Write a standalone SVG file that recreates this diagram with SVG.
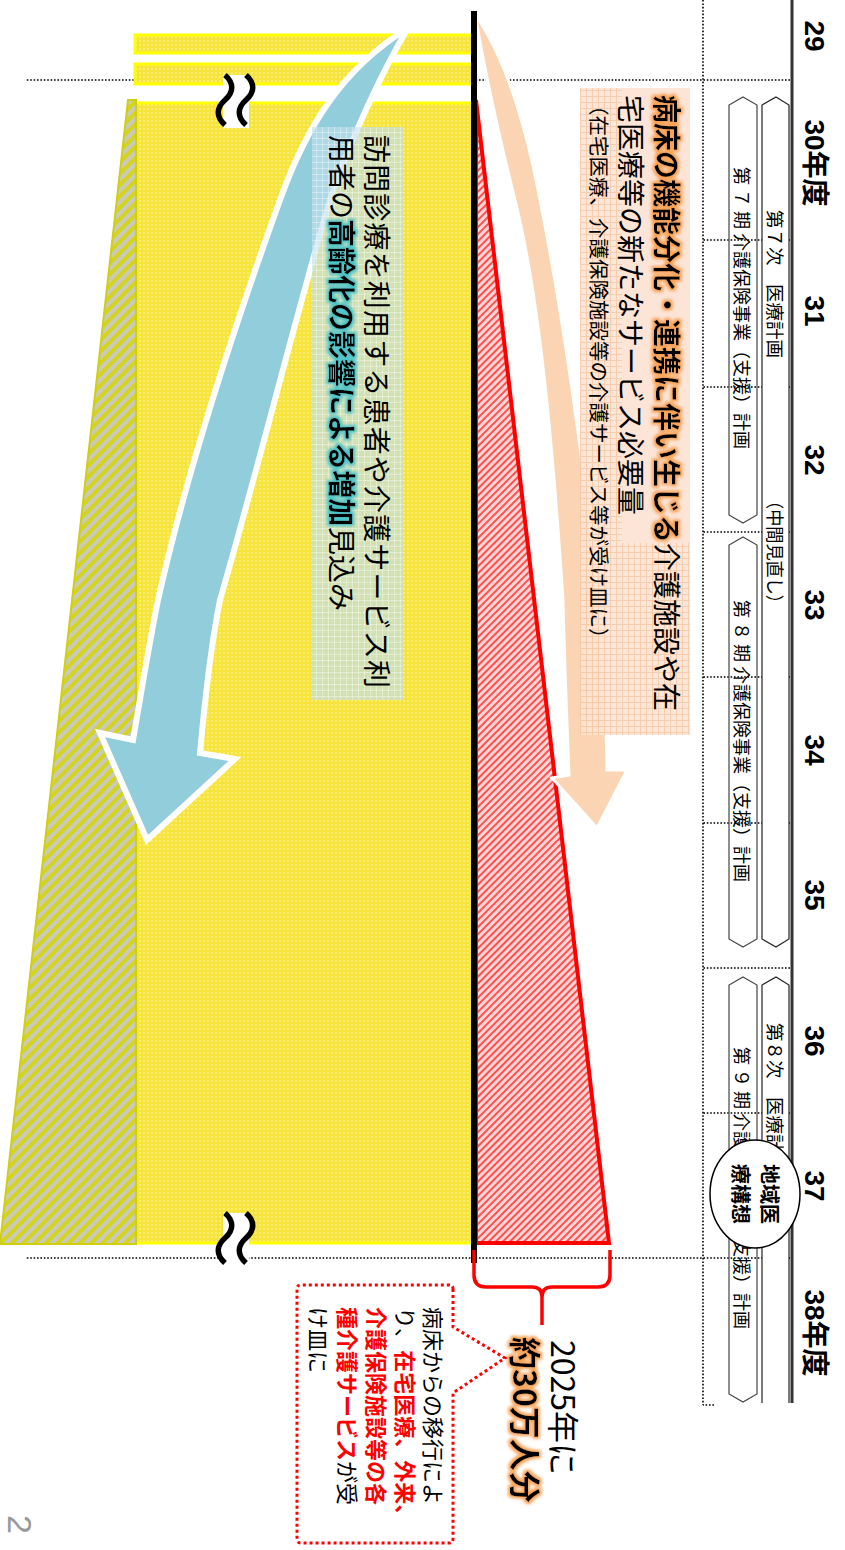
<svg xmlns="http://www.w3.org/2000/svg" width="845" height="1550" viewBox="0 0 845 1550">
<style>
.jp{font-family:"Noto Sans CJK JP","Noto Sans",sans-serif}
.yr{font-family:"Liberation Sans","Noto Sans CJK JP",sans-serif;font-weight:bold;font-size:28px;text-anchor:middle}
.dot{stroke:#000;stroke-width:1.6;stroke-dasharray:1.6 1.8;fill:none}
.barA{fill:#fff;stroke:#222;stroke-width:1.2}
.barB{fill:none;stroke:#444;stroke-width:1.2}
.tl{font-size:18.5px;dominant-baseline:central}
.tk{font-size:18px;dominant-baseline:central}
.c{dominant-baseline:central}
.b{font-weight:bold}
.wave{fill:none;stroke:#000;stroke-width:5.5}
</style>
<defs>
<pattern id="pY" width="4" height="4" patternUnits="userSpaceOnUse"><rect width="4" height="4" fill="#F6E33C"/><rect width="2" height="2" fill="#FBEE6E"/></pattern>
<pattern id="pR" width="5" height="5" patternUnits="userSpaceOnUse" patternTransform="rotate(-45)"><rect width="5" height="5" fill="#FFD6D6"/><rect width="2" height="5" fill="#FF5050"/></pattern>
<pattern id="pO" width="8" height="8" patternUnits="userSpaceOnUse" patternTransform="rotate(-45)"><rect width="8" height="8" fill="#C9C9BE"/><rect width="4" height="8" fill="#D4D41E"/></pattern>
<pattern id="pGP" width="6" height="6" patternUnits="userSpaceOnUse"><rect width="6" height="6" fill="#FCE3D3"/><path d="M0,0.5H6M0.5,0V6" stroke="#F6C8A6" stroke-width="1"/></pattern>
<pattern id="pGB" width="6" height="6" patternUnits="userSpaceOnUse"><path d="M0,0.5H6M0.5,0V6" stroke="#ffffff" stroke-opacity="0.35" stroke-width="1"/></pattern>
<filter id="glowO" x="-5%" y="-40%" width="110%" height="180%"><feMorphology in="SourceAlpha" operator="dilate" radius="2" result="d"/><feGaussianBlur in="d" stdDeviation="1.6" result="bl"/><feFlood flood-color="#F7A358"/><feComposite in2="bl" operator="in" result="g"/><feMerge><feMergeNode in="g"/><feMergeNode in="SourceGraphic"/></feMerge></filter>
<filter id="glowT" x="-5%" y="-40%" width="110%" height="180%"><feMorphology in="SourceAlpha" operator="dilate" radius="2" result="d"/><feGaussianBlur in="d" stdDeviation="1.6" result="bl"/><feFlood flood-color="#4DC2C6"/><feComposite in2="bl" operator="in" result="g"/><feMerge><feMergeNode in="g"/><feMergeNode in="SourceGraphic"/></feMerge></filter>
</defs>
<rect width="845" height="1550" fill="#fff"/>
<g transform="translate(845,0) rotate(90)">
  <g id="grid">
    <line class="dot" x1="80" y1="55" x2="80" y2="819"/>
    <line class="dot" x1="1258" y1="55" x2="1258" y2="819"/>
    <line class="dot" x1="240" y1="55" x2="240" y2="142"/>
    <line class="dot" x1="387" y1="55" x2="387" y2="142"/>
    <line class="dot" x1="532" y1="55" x2="532" y2="142"/>
    <line class="dot" x1="677" y1="55" x2="677" y2="142"/>
    <line class="dot" x1="823" y1="55" x2="823" y2="142"/>
    <line class="dot" x1="968" y1="55" x2="968" y2="142"/>
    <line class="dot" x1="1113" y1="55" x2="1113" y2="142"/>
    <line class="dot" x1="0" y1="142" x2="1405" y2="142"/>
    <line class="dot" x1="1405" y1="131" x2="1405" y2="142"/>
  </g>
  <g id="yellow-area">
    <rect x="35" y="372" width="18" height="338" fill="url(#pY)" stroke="#FFFF00" stroke-width="3"/>
    <rect x="64" y="372" width="20" height="338" fill="url(#pY)" stroke="#FFFF00" stroke-width="3"/>
    <rect x="103" y="372" width="1140" height="338" fill="url(#pY)" stroke="#FFFF00" stroke-width="3"/>
  </g>
  <g id="olive-area">
    <polygon points="100,709 1244,709 1244,845 100,717" fill="url(#pO)" stroke="#CFCF10" stroke-width="2"/>
  </g>
  <g id="red-triangle">
    <polygon points="100,369 1243,236 1243,369" fill="url(#pR)" stroke="#FF0000" stroke-width="4"/>
  </g>
  <g id="breaks">
    <rect x="75" y="596" width="53" height="26" fill="#fff"/>
    <path class="wave" d="M75,620 c8,-9 17,-9 25,0 s17,9 25,0"/>
    <path class="wave" d="M75,599 c8,-9 17,-9 25,0 s17,9 25,0"/>
    <rect x="1213" y="596" width="53" height="26" fill="#fff"/>
    <path class="wave" d="M1213,620 c8,-9 17,-9 25,0 s17,9 25,0"/>
    <path class="wave" d="M1213,599 c8,-9 17,-9 25,0 s17,9 25,0"/>
  </g>
  <g id="connectors">
    <path id="blue-arrow" d="M28,437 C70,462 140,495 200,515 C300,545 480,590 600,625 C650,635 720,642 753,645 L759,610 L840,698 L733,745 L740,712 C700,705 650,697 600,687 C480,660 330,612 200,565 C130,540 70,505 28,437 Z" fill="#92CDDC" stroke="#fff" stroke-width="6" stroke-linejoin="miter"/>
    <path id="peach-arrow" d="M20,366 C60,340 120,320 200,305 C300,285 450,262 600,247 C700,240 750,238 770,238 L770,218 L828,248 L778,293 L775,276 C700,279 650,281 600,282 C450,292 300,305 200,330 C120,350 60,362 20,369 Z" fill="#FBD4B4" stroke="#fff" stroke-width="3"/>
    <line x1="11" y1="371" x2="1263" y2="371" stroke="#000" stroke-width="6"/>
    <path id="brace" d="M1250,371 L1275,371 Q1287,371 1287,359 L1287,313 Q1287,303 1297,303 L1325,303 M1297,303 Q1287,303 1287,293 L1287,247 Q1287,235 1275,235 L1250,235" fill="none" stroke="#FF0000" stroke-width="3.5"/>
  </g>
  <g id="header">
    <line x1="0" y1="53" x2="1403" y2="53" stroke="#333" stroke-width="3"/>
    <text class="yr" x="36" y="40">29</text>
    <text class="yr" x="163" y="40">30年度</text>
    <text class="yr" x="311" y="40">31</text>
    <text class="yr" x="460" y="40">32</text>
    <text class="yr" x="605" y="40">33</text>
    <text class="yr" x="750" y="40">34</text>
    <text class="yr" x="895" y="40">35</text>
    <text class="yr" x="1041" y="40">36</text>
    <text class="yr" x="1186" y="40">37</text>
    <text class="yr" x="1333" y="40">38年度</text>
  </g>
  <g id="plan-7-iryo">
    <polygon class="barA" points="97,69 105,56 939,56 947,69 939,83 105,83"/>
    <text class="jp tl" x="210" y="69">第７次　医療計画</text>
    <text class="jp tl" x="492" y="69" textLength="120" lengthAdjust="spacingAndGlyphs">（中間見直し）</text>
  </g>
  <g id="plan-7-kaigo">
    <polygon class="barB" points="97,102 105,88 515,88 523,102 515,116 105,116"/>
    <text class="jp tk" x="167" y="102">第 ７ 期 介護保険事業（支援）計画</text>
  </g>
  <g id="plan-8-kaigo">
    <polygon class="barB" points="537,102 545,88 939,88 947,102 939,116 545,116"/>
    <text class="jp tk" x="600" y="102">第 ８ 期 介護保険事業（支援）計画</text>
  </g>
  <g id="plan-8-iryo">
    <path class="barA" d="M1403,56 L985,56 L977,69 L985,83 L1403,83"/>
    <text class="jp tl" x="1023" y="69">第８次　医療計画</text>
  </g>
  <g id="plan-9-kaigo">
    <polygon class="barB" points="977,102 985,88 1394,88 1402,102 1394,116 985,116"/>
    <text class="jp tk" x="1047" y="102">第 ９ 期 介護保険事業（支援）計画</text>
  </g>
  <g id="chiiki-iryo-koso">
    <ellipse cx="1194" cy="90" rx="54" ry="45" fill="#fff" stroke="#000" stroke-width="1.5"/>
    <text class="jp c b" x="1194" y="75" font-size="20" text-anchor="middle">地域医</text>
    <text class="jp c b" x="1194" y="104" font-size="20" text-anchor="middle">療構想</text>
  </g>
  <g id="peach-box">
    <rect x="88" y="155" width="647" height="110" fill="url(#pGP)" fill-opacity="0.9"/>
    <rect x="88" y="155" width="455" height="68" fill="#FCE4D6"/>
    <text class="jp c b" x="95" y="177" font-size="28" filter="url(#glowO)">病床の機能分化・連携に伴い生じる</text>
    <text class="jp c" x="543" y="177" font-size="28">介護施設や在</text>
    <text class="jp c" x="95" y="213" font-size="28">宅医療等の新たなサービス必要量</text>
    <text class="jp c" x="95" y="245" font-size="20.5">（在宅医療、介護保険施設等の介護サービス等が受け皿に）</text>
  </g>
  <g id="blue-box">
    <rect x="127" y="442" width="573" height="91" fill="#BFDFEC" fill-opacity="0.65"/>
    <rect x="127" y="442" width="573" height="91" fill="url(#pGB)"/>
    <text class="jp c" x="135" y="467" font-size="28" textLength="553" lengthAdjust="spacing">訪問診療を利用する患者や介護サービス利</text>
    <text class="jp c" x="135" y="502" font-size="28">用者の</text>
    <text class="jp c b" x="219" y="502" font-size="28" filter="url(#glowT)">高齢化の影響による増加</text>
    <text class="jp c" x="527" y="502" font-size="28">見込み</text>
  </g>
  <g id="brace-label">
    <text class="jp c" x="1340" y="280" font-size="32">2025年に</text>
    <text class="jp c b" x="1337" y="318" font-size="32" filter="url(#glowO)">約30万人分</text>
  </g>
  <g id="callout">
    <path d="M1289,392 H1327 L1358,340 L1393,392 H1539 Q1543,392 1543,396 V544 Q1543,548 1539,548 H1289 Q1285,548 1285,544 V396 Q1285,392 1289,392 Z" fill="#fff" stroke="#FF0000" stroke-width="3" stroke-dasharray="3 3"/>
    <text class="jp c" x="1307" y="410" font-size="22">病床からの移行によ</text>
    <text class="jp c" x="1307" y="438" font-size="22">り、<tspan class="b" fill="#FF0000">在宅医療、外来、</tspan></text>
    <text class="jp c b" x="1307" y="467" font-size="22" fill="#FF0000">介護保険施設等の各</text>
    <text class="jp c" x="1307" y="496" font-size="22"><tspan class="b" fill="#FF0000">種介護サービス</tspan>が受</text>
    <text class="jp c" x="1307" y="525" font-size="22">け皿に</text>
  </g>
  <text x="1515" y="837" font-family="Liberation Sans, sans-serif" font-size="34" fill="#999">2</text>
</g>
</svg>
